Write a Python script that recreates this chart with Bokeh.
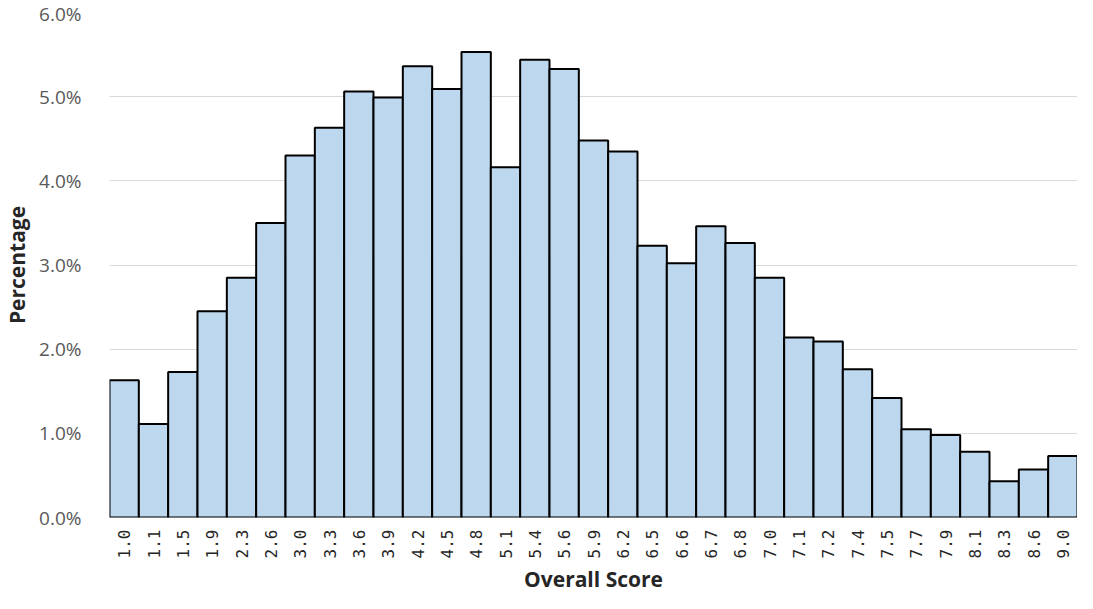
from bokeh.plotting import figure
from bokeh.models import FactorRange, Range1d, FixedTicker, PrintfTickFormatter, ColumnDataSource, Title
from bokeh.embed import file_html
from bokeh.resources import INLINE
import math

scores = ["1.0", "1.1", "1.5", "1.9", "2.3", "2.6", "3.0", "3.3", "3.6", "3.9",
          "4.2", "4.5", "4.8", "5.1", "5.4", "5.6", "5.9", "6.2", "6.5", "6.6",
          "6.7", "6.8", "7.0", "7.1", "7.2", "7.4", "7.5", "7.7", "7.9", "8.1",
          "8.3", "8.6", "9.0"]
percentages = [1.63, 1.11, 1.73, 2.45, 2.85, 3.50, 4.30, 4.63, 5.06, 4.99,
               5.36, 5.09, 5.53, 4.16, 5.44, 5.33, 4.48, 4.35, 3.23, 3.02,
               3.46, 3.26, 2.85, 2.14, 2.09, 1.76, 1.42, 1.05, 0.98, 0.78,
               0.43, 0.57, 0.73]
y_ticks = [0, 1, 2, 3, 4, 5, 6]

source = ColumnDataSource(dict(score=scores, pct=percentages))

p = figure(width=1077, height=593, output_backend="svg", toolbar_location=None,
           x_range=FactorRange(factors=scores, range_padding=0),
           y_range=Range1d(0, 6),
           min_border_left=104, min_border_right=0, min_border_top=12, min_border_bottom=66)

p.vbar(x="score", top="pct", bottom=0, width=1.0, source=source,
       fill_color="#BDD7EE", line_color="black", line_width=2)

p.outline_line_color = None
p.xgrid.grid_line_color = None
p.ygrid.grid_line_color = "#d9d9d9"
p.ygrid.grid_line_width = 1
p.ygrid.level = "underlay"

p.yaxis.ticker = FixedTicker(ticks=y_ticks)
p.yaxis.formatter = PrintfTickFormatter(format="%.1f%%")
p.yaxis.axis_line_color = None
p.yaxis.major_tick_line_color = None
p.yaxis.minor_tick_line_color = None
p.yaxis.major_label_text_font = "Open Sans"
p.yaxis.major_label_text_font_size = "19px"
p.yaxis.major_label_text_color = "#595959"
p.yaxis.major_label_standoff = 22
p.yaxis.axis_label = "Percentage"
p.yaxis.axis_label_text_font = "Open Sans"
p.yaxis.axis_label_text_font_style = "bold"
p.yaxis.axis_label_text_font_size = "21px"
p.yaxis.axis_label_text_color = "#262626"
p.yaxis.axis_label_standoff = 5

p.xaxis.axis_line_color = None
p.xaxis.major_tick_line_color = None
p.xaxis.minor_tick_line_color = None
p.xaxis.major_label_orientation = math.pi / 2
p.xaxis.major_label_text_font = "DejaVu Sans Mono"
p.xaxis.major_label_text_font_size = "16px"
p.xaxis.major_label_text_color = "#262626"
p.xaxis.major_label_standoff = 6

x_title = Title(text="Overall Score", align="center",
                text_font="Open Sans", text_font_style="bold", text_font_size="21px",
                text_color="#262626", standoff=2, offset=0)
p.add_layout(x_title, "below")

open("out.html", "w").write(file_html(p, INLINE))
